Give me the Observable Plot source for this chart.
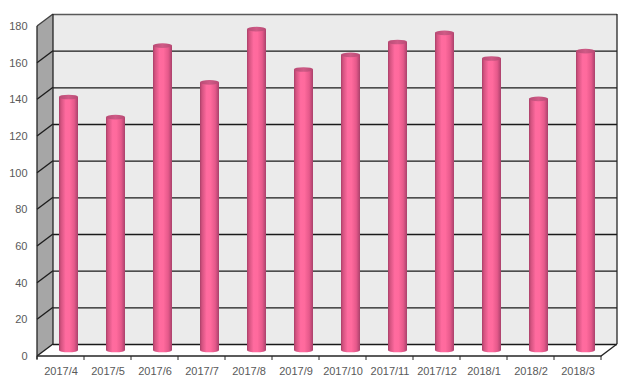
<!DOCTYPE html>
<html><head><meta charset="utf-8">
<script src="https://cdn.jsdelivr.net/npm/d3@7"></script>
<script src="https://cdn.jsdelivr.net/npm/@observablehq/plot@0.6"></script>
<style>body{margin:0;background:#fff;}</style>
</head><body><div id="chart"></div>
<script>
const months = ["2017/4","2017/5","2017/6","2017/7","2017/8","2017/9","2017/10","2017/11","2017/12","2018/1","2018/2","2018/3"];
const values = [138,127,166,146,175,153,161,168,173,159,137,163];
const yTicks = [0,20,40,60,80,100,120,140,160,180];

const data = months.map((m,i)=>({month:m, value:values[i]}));

const DX = 16, DY = -12;   // back-wall depth offset
const MX = 8,  MY = -6;    // mid-depth offset (bars)

function defs() {
  const svg = d3.create("svg:defs");
  const body = svg.append("linearGradient").attr("id","cylBody").attr("x1",0).attr("x2",1).attr("y1",0).attr("y2",0);
  [[0,"#a83f68"],[0.1,"#d2527f"],[0.35,"#ff6b9f"],[0.55,"#ff6a9d"],[0.8,"#e6598b"],[1,"#a9416b"]]
    .forEach(([o,c])=>body.append("stop").attr("offset",o).attr("stop-color",c));
  const top = svg.append("linearGradient").attr("id","cylTop").attr("x1",0).attr("x2",1).attr("y1",0).attr("y2",0);
  [[0,"#b84a74"],[0.5,"#cf5a86"],[1,"#b84a74"]]
    .forEach(([o,c])=>top.append("stop").attr("offset",o).attr("stop-color",c));
  return svg.node();
}

function walls(index, scales, vals, dim) {
  const {y} = scales;
  const x0 = dim.marginLeft, x1 = dim.width - dim.marginRight;
  const y0 = y(0), yT = y(180);
  const g = d3.create("svg:g");
  g.append("rect").attr("x", x0+DX).attr("y", yT+DY).attr("width", x1-x0).attr("height", y0-yT).attr("fill","#ebebeb");
  g.append("path").attr("d",`M${x0},${yT}L${x0+DX},${yT+DY}L${x0+DX},${y0+DY}L${x0},${y0}Z`).attr("fill","#a6a6a6");
  g.append("path").attr("d",`M${x0},${y0}L${x0+DX},${y0+DY}L${x1+DX},${y0+DY}L${x1},${y0}Z`).attr("fill","#ffffff");
  return g.node();
}

function edges(index, scales, vals, dim) {
  const {x, y} = scales;
  const x0 = dim.marginLeft, x1 = dim.width - dim.marginRight;
  const y0 = y(0), yT = y(180);
  const g = d3.create("svg:g").attr("fill","none");
  // side-wall grid diagonals
  for (const t of yTicks) {
    g.append("path").attr("d",`M${x0},${y(t)}L${x0+DX},${y(t)+DY}`)
      .attr("stroke", t===180 ? "#404040" : "#1a1a1a").attr("stroke-width",1.3);
  }
  // front vertical edge and back-left edge
  g.append("path").attr("d",`M${x0},${yT}L${x0},${y0+3}`).attr("stroke","#262626").attr("stroke-width",1.3);
  g.append("path").attr("d",`M${x0+DX},${yT+DY}L${x0+DX},${y0+DY}`).attr("stroke","#262626").attr("stroke-width",1.3);
  // back-right edge
  g.append("path").attr("d",`M${x1+DX},${yT+DY}L${x1+DX},${y0+DY}`).attr("stroke","#262626").attr("stroke-width",1.3);
  // floor front edge and right diagonal
  g.append("path").attr("d",`M${x0},${y0}L${x1},${y0}L${x1+DX},${y0+DY}`).attr("stroke","#262626").attr("stroke-width",1.3);
  // category ticks at band boundaries
  const bw = x.bandwidth();
  for (let i = 0; i <= months.length; i++) {
    const xx = i < months.length ? x(months[i]) : x(months[months.length-1]) + bw;
    g.append("path").attr("d",`M${xx},${y0}L${xx},${y0+4}`).attr("stroke","#262626").attr("stroke-width",1);
  }
  return g.node();
}

function bottoms(index, scales) {
  const {x, y} = scales;
  const bw = x.bandwidth();
  const g = d3.create("svg:g");
  for (const d of data) {
    g.append("ellipse").attr("cx", x(d.month)+bw/2+MX).attr("cy", y(0)+MY)
      .attr("rx", 9.6).attr("ry", 2.3).attr("fill","url(#cylBody)");
  }
  return g.node();
}

function tops(index, scales) {
  const {x, y} = scales;
  const bw = x.bandwidth();
  const g = d3.create("svg:g");
  for (const d of data) {
    g.append("ellipse").attr("cx", x(d.month)+bw/2+MX).attr("cy", y(d.value)+MY)
      .attr("rx", 9.6).attr("ry", 2.3).attr("fill","url(#cylTop)");
  }
  return g.node();
}

const chart = Plot.plot({
  width: 630,
  height: 388,
  marginLeft: 37,
  marginRight: 29,
  marginTop: 26,
  marginBottom: 32,
  style: {fontFamily: "'Liberation Sans', Arial, sans-serif", fontSize: "11px", color: "#595959", background: "#fff"},
  x: {type: "band", domain: months, padding: 0, label: null},
  y: {domain: [0, 180], label: null},
  marks: [
    defs,
    walls,
    Plot.ruleY(yTicks.filter(t => t < 180), {dx: DX, dy: DY, stroke: "#1a1a1a", strokeWidth: 1.3}),
    Plot.ruleY([180], {dx: DX, dy: DY, stroke: "#595959", strokeWidth: 1.3}),
    edges,
    bottoms,
    Plot.barY(data, {x: "month", y: "value", dx: MX, dy: MY, insetLeft: 14, insetRight: 14, fill: "url(#cylBody)"}),
    tops,
    Plot.axisY(yTicks, {tickSize: 0, tickPadding: 10, fill: "#595959"}),
    Plot.axisX({tickSize: 0, tickPadding: 11, fill: "#595959"})
  ]
});
document.getElementById("chart").appendChild(chart);
</script>
</body></html>
